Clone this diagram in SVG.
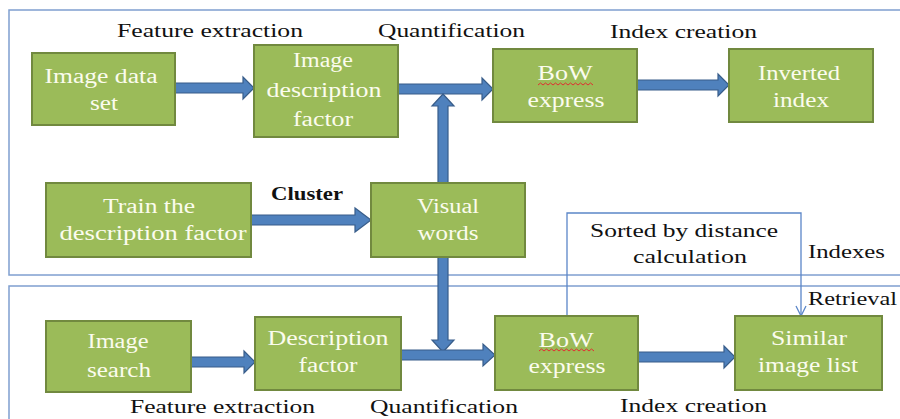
<svg xmlns="http://www.w3.org/2000/svg" width="900" height="419" viewBox="0 0 900 419">
<defs>
<style>
.panel{fill:none;stroke:#7f9fd0;stroke-width:1.5}
.node rect{fill:#9bbb59;stroke:#71893f;stroke-width:2}
.nt{font-family:"Liberation Serif","Times New Roman",serif;font-size:20px;fill:#fbfcee;text-anchor:middle}
.lbl{font-family:"Liberation Serif","Times New Roman",serif;font-size:19px;fill:#111;text-anchor:start}
.blk{fill:#4f81bd;stroke:#385d8a;stroke-width:1.2}
.thin{fill:none;stroke:#5b86c8;stroke-width:1.3}
.sq{fill:none;stroke:#e03030;stroke-width:1}
</style>
</defs>
<rect width="900" height="419" fill="#ffffff"/>
<g id="panels">
<rect class="panel" x="9" y="10" width="900" height="265"/>
<rect class="panel" x="9" y="286" width="900" height="150"/>
</g>
<g id="connectors">
<polygon class="blk" points="175,83 243,83 243,77 254,88 243,99 243,93 175,93"/>
<polygon class="blk" points="398,84 482,84 482,78 493,89 482,100 482,94 398,94"/>
<polygon class="blk" points="637,80 718,80 718,74 729,85 718,96 718,90 637,90"/>
<polygon class="blk" points="251,215 355,215 355,208 371,220 355,232 355,225 251,225"/>
<polygon class="blk" points="438,183 438,106 432,106 443,94 454,106 448,106 448,183"/>
<polygon class="blk" points="438,257 438,340 432,340 443,352 454,340 448,340 448,257"/>
<polygon class="blk" points="401,350 483,350 483,344 495,355 483,366 483,360 401,360"/>
<polygon class="blk" points="191,357 244,357 244,351 255,362 244,373 244,367 191,367"/>
<polygon class="blk" points="638,352 724,352 724,346 735,357 724,368 724,362 638,362"/>
<polyline class="thin" points="567,316 567,213 801,213 801,315"/>
<polyline class="thin" points="796,306 801,316 806,306"/>
</g>
<g id="n-image-data-set" class="node">
<rect x="32" y="53" width="143" height="72"/>
<text class="nt" x="101" y="83" textLength="113" lengthAdjust="spacingAndGlyphs">Image data</text>
<text class="nt" x="104" y="110" textLength="28" lengthAdjust="spacingAndGlyphs">set</text>
</g>
<g id="n-image-description-factor" class="node">
<rect x="254" y="45" width="144" height="92"/>
<text class="nt" x="323" y="67" textLength="60" lengthAdjust="spacingAndGlyphs">Image</text>
<text class="nt" x="324" y="97" textLength="115" lengthAdjust="spacingAndGlyphs">description</text>
<text class="nt" x="323" y="126" textLength="60" lengthAdjust="spacingAndGlyphs">factor</text>
</g>
<g id="n-bow-top" class="node">
<rect x="493" y="49" width="144" height="73"/>
<text class="nt" x="565" y="80" textLength="55" lengthAdjust="spacingAndGlyphs">BoW</text>
<path class="sq" d="M538,85 l2.5,-2 l2.5,2 l2.5,-2 l2.5,2 l2.5,-2 l2.5,2 l2.5,-2 l2.5,2 l2.5,-2 l2.5,2 l2.5,-2 l2.5,2 l2.5,-2 l2.5,2 l2.5,-2 l2.5,2 l2.5,-2 l2.5,2 l2.5,-2 l2.5,2 l2.5,-2 l2.5,2"/>
<text class="nt" x="566" y="107" textLength="77" lengthAdjust="spacingAndGlyphs">express</text>
</g>
<g id="n-inverted-index" class="node">
<rect x="729" y="49" width="144" height="73"/>
<text class="nt" x="799" y="80" textLength="82" lengthAdjust="spacingAndGlyphs">Inverted</text>
<text class="nt" x="801" y="107" textLength="56" lengthAdjust="spacingAndGlyphs">index</text>
</g>
<g id="n-train" class="node">
<rect x="46" y="183" width="205" height="74"/>
<text class="nt" x="149" y="213" textLength="92" lengthAdjust="spacingAndGlyphs">Train the</text>
<text class="nt" x="153" y="240" textLength="187" lengthAdjust="spacingAndGlyphs">description factor</text>
</g>
<g id="n-visual-words" class="node">
<rect x="371" y="183" width="154" height="74"/>
<text class="nt" x="448" y="213" textLength="62" lengthAdjust="spacingAndGlyphs">Visual</text>
<text class="nt" x="448" y="240" textLength="61" lengthAdjust="spacingAndGlyphs">words</text>
</g>
<g id="n-image-search" class="node">
<rect x="46" y="321" width="145" height="71"/>
<text class="nt" x="118" y="348" textLength="61" lengthAdjust="spacingAndGlyphs">Image</text>
<text class="nt" x="119" y="377" textLength="64" lengthAdjust="spacingAndGlyphs">search</text>
</g>
<g id="n-description-factor" class="node">
<rect x="255" y="317" width="146" height="73"/>
<text class="nt" x="328" y="345" textLength="121" lengthAdjust="spacingAndGlyphs">Description</text>
<text class="nt" x="328" y="372" textLength="59" lengthAdjust="spacingAndGlyphs">factor</text>
</g>
<g id="n-bow-bottom" class="node">
<rect x="495" y="316" width="143" height="74"/>
<text class="nt" x="566" y="347" textLength="55" lengthAdjust="spacingAndGlyphs">BoW</text>
<path class="sq" d="M539,351 l2.5,-2 l2.5,2 l2.5,-2 l2.5,2 l2.5,-2 l2.5,2 l2.5,-2 l2.5,2 l2.5,-2 l2.5,2 l2.5,-2 l2.5,2 l2.5,-2 l2.5,2 l2.5,-2 l2.5,2 l2.5,-2 l2.5,2 l2.5,-2 l2.5,2 l2.5,-2 l2.5,2"/>
<text class="nt" x="567" y="373" textLength="77" lengthAdjust="spacingAndGlyphs">express</text>
</g>
<g id="n-similar" class="node">
<rect x="735" y="316" width="147" height="74"/>
<text class="nt" x="809" y="345" textLength="76" lengthAdjust="spacingAndGlyphs">Similar</text>
<text class="nt" x="808" y="372" textLength="100" lengthAdjust="spacingAndGlyphs">image list</text>
</g>
<g id="labels">
<text class="lbl" x="117" y="37" textLength="186" lengthAdjust="spacingAndGlyphs">Feature extraction</text>
<text class="lbl" x="378" y="37" textLength="147" lengthAdjust="spacingAndGlyphs">Quantification</text>
<text class="lbl" x="610" y="38" textLength="147" lengthAdjust="spacingAndGlyphs">Index creation</text>
<text class="lbl" x="271" y="200" textLength="72" lengthAdjust="spacingAndGlyphs" font-weight="bold">Cluster</text>
<text class="lbl" x="590" y="237" textLength="188" lengthAdjust="spacingAndGlyphs">Sorted by distance</text>
<text class="lbl" x="633" y="263" textLength="114" lengthAdjust="spacingAndGlyphs">calculation</text>
<text class="lbl" x="808" y="258" textLength="77" lengthAdjust="spacingAndGlyphs">Indexes</text>
<text class="lbl" x="808" y="305" textLength="89" lengthAdjust="spacingAndGlyphs">Retrieval</text>
<text class="lbl" x="130" y="413" textLength="185" lengthAdjust="spacingAndGlyphs">Feature extraction</text>
<text class="lbl" x="370" y="413" textLength="148" lengthAdjust="spacingAndGlyphs">Quantification</text>
<text class="lbl" x="620" y="412" textLength="147" lengthAdjust="spacingAndGlyphs">Index creation</text>
</g>
</svg>
